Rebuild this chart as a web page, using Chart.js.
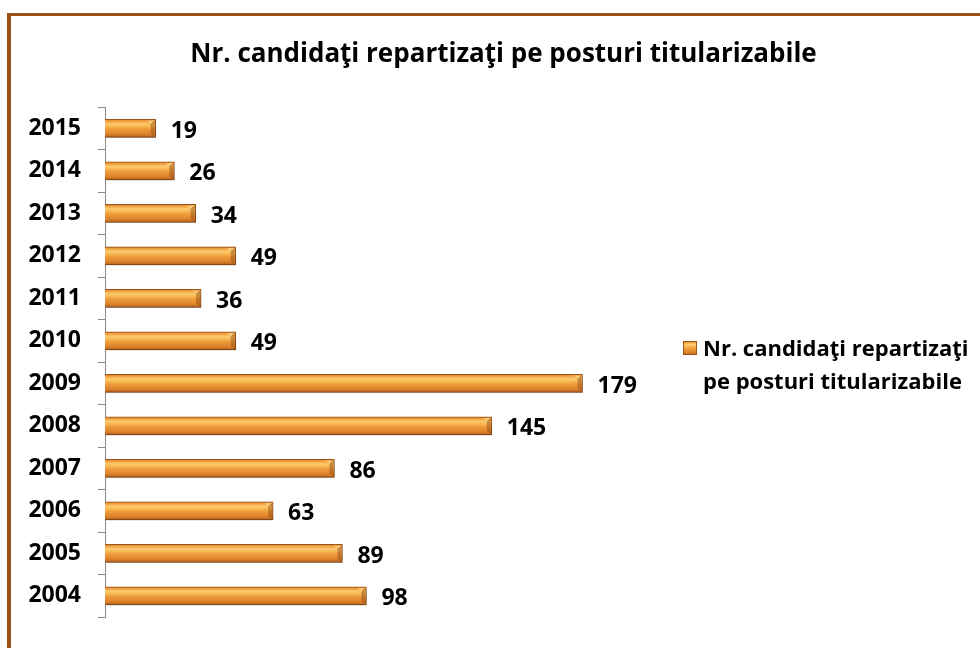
<!DOCTYPE html>
<html><head><meta charset="utf-8">
<script src="https://cdn.jsdelivr.net/npm/chart.js@4"></script>
<style>
html,body{margin:0;padding:0;background:#fff;overflow:hidden}
#wrap{position:relative;width:980px;height:648px;overflow:hidden}
#frame{position:absolute;left:7px;top:13px;width:1000px;height:700px;border-top:3px solid #9E4F12;border-left:4px solid #9E4F12;box-sizing:border-box}
canvas{position:absolute;left:0;top:0}
</style></head><body>
<div id="wrap"><div id="frame"></div><canvas id="c" width="980" height="648"></canvas></div>
<script>
const years = ['2015','2014','2013','2012','2011','2010','2009','2008','2007','2006','2005','2004'];
const values = [19,26,34,49,36,49,179,145,86,63,89,98];
const seriesLabel = 'Nr. candidaţi repartizaţi pe posturi titularizabile';
const legendLines = ['Nr. candidaţi repartizaţi', 'pe posturi titularizabile'];
const titleText = 'Nr. candidaţi repartizaţi pe posturi titularizabile';

const FONT = '"Open Sans"';

function barGradient(ctx, top, bottom) {
  const g = ctx.createLinearGradient(0, top, 0, bottom);
  g.addColorStop(0, '#D9822A');
  g.addColorStop(0.1, '#F0A040');
  g.addColorStop(0.25, '#FCCB70');
  g.addColorStop(0.38, '#F8B852');
  g.addColorStop(0.55, '#EE9A3A');
  g.addColorStop(0.8, '#DF842C');
  g.addColorStop(1, '#B3601E');
  return g;
}

const shadowPlugin = {
  id: 'barShadow',
  beforeDatasetsDraw(chart) {
    const c = chart.ctx; c.save();
    c.shadowColor = 'rgba(0,0,0,0.30)'; c.shadowBlur = 4; c.shadowOffsetX = 1; c.shadowOffsetY = 3;
  },
  afterDatasetsDraw(chart) { chart.ctx.restore(); }
};

const bevelAndLabels = {
  id: 'bevelAndLabels',
  afterDatasetsDraw(chart) {
    const c = chart.ctx;
    const meta = chart.getDatasetMeta(0);
    c.save();
    meta.data.forEach((el) => {
      const r = el.x, t = el.y - el.height / 2, b = el.y + el.height / 2;
      c.fillStyle = 'rgba(140,70,15,0.45)';
      c.beginPath();
      c.moveTo(r - 1, t + 1); c.lineTo(r - 1, b - 1); c.lineTo(r - 5, b - 4); c.lineTo(r - 5, t + 4);
      c.closePath(); c.fill();
      c.fillStyle = 'rgba(255,230,160,0.55)';
      c.beginPath();
      c.moveTo(r - 1, t + 1); c.lineTo(r - 5, t + 4); c.lineTo(r - 9, t + 1);
      c.closePath(); c.fill();
    });
    c.font = 'bold 23px ' + FONT;
    c.fillStyle = '#000';
    c.textAlign = 'left';
    c.textBaseline = 'middle';
    meta.data.forEach((el, i) => {
      c.fillText(String(chart.data.datasets[0].data[i]), el.x + 15, el.y + 3);
    });
    c.restore();
  }
};

const customLegend = {
  id: 'customLegend',
  afterDraw(chart) {
    const c = chart.ctx;
    c.save();
    const bx = 683, by = 341, bs = 14;
    c.fillStyle = barGradient(c, by, by + bs);
    c.fillRect(bx, by, bs, bs);
    c.strokeStyle = '#9C5418'; c.lineWidth = 1;
    c.strokeRect(bx + 0.5, by + 0.5, bs - 1, bs - 1);
    c.font = 'bold 22px ' + FONT;
    c.fillStyle = '#000';
    c.textAlign = 'left';
    c.textBaseline = 'middle';
    c.fillText(legendLines[0], 703, 350);
    c.fillText(legendLines[1], 703, 383);
    c.restore();
  }
};

new Chart(document.getElementById('c'), {
  type: 'bar',
  data: {
    labels: years,
    datasets: [{
      label: seriesLabel,
      data: values,
      backgroundColor(ctx) {
        const chart = ctx.chart;
        if (!chart.chartArea || !chart.scales.y) return '#F0A042';
        const y = chart.scales.y.getPixelForValue(ctx.dataIndex);
        return barGradient(chart.ctx, y - 9, y + 9);
      },
      borderColor: '#9C5418',
      borderWidth: 1,
      barThickness: 18
    }]
  },
  options: {
    indexAxis: 'y',
    responsive: false,
    animation: false,
    devicePixelRatio: 1,
    layout: { padding: { left: 27, right: 0, top: 0, bottom: 21 } },
    plugins: {
      legend: { display: false },
      tooltip: { enabled: false },
      title: {
        display: true,
        text: titleText,
        color: '#000',
        font: { family: FONT, size: 26, weight: 'bold', lineHeight: 1.2 },
        padding: { top: 39, bottom: 37 }
      }
    },
    scales: {
      x: { display: false, min: 0, max: 328 },
      y: {
        afterFit(scale) { scale.width = 78; },
        grid: { offset: true, drawOnChartArea: false, drawTicks: true, tickLength: 7, color: '#8A8A8A', lineWidth: 1 },
        border: { display: true, color: '#8A8A8A', width: 1 },
        ticks: { color: '#000', padding: 17, font: { family: FONT, size: 23, weight: 'bold' } }
      }
    }
  },
  plugins: [shadowPlugin, bevelAndLabels, customLegend]
});
</script>
</body></html>
